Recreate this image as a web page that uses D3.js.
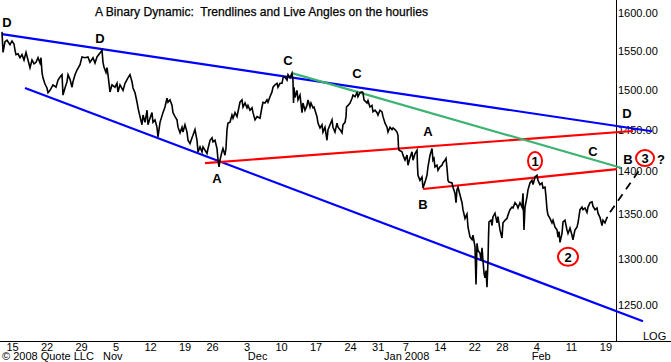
<!DOCTYPE html>
<html>
<head>
<meta charset="utf-8">
<script src="https://cdn.jsdelivr.net/npm/d3@7"></script>
<style>
  html, body { margin: 0; padding: 0; background: #fff; }
  svg { display: block; font-family: "Liberation Sans", Arial, sans-serif; }
</style>
</head>
<body>
<svg id="chart" width="671" height="362"></svg>
<script>
// ---------------- DATA ----------------
const title = "A Binary Dynamic:  Trendlines and Live Angles on the hourlies";

// x axis: trading-day index (0 = Mon Oct 15 2007)
const dayTickLabels = ["15","22","29","5","12","19","26","3","10","17","24","31","7","14","22","28","4","11","19"];
const dayTickIndex  = [0,5,10,15,20,25,29,34,39,44,49,53,57,62,67,71,76,81,86];
const monthLabels   = ["Nov","Dec","Jan 2008","Feb"];
const monthIndex    = [14.6,35.6,57.2,76.7];

// y axis (log)
const priceTicks = [1250,1300,1350,1400,1450,1500,1550,1600];

// hourly price series: time in trading days, price
const seriesT = [-1.45,-1.30,-1.01,-0.72,-0.29,0.00,0.29,0.43,0.58,0.87,1.16,1.45,1.74,2.03,2.32,2.61,2.90,3.19,3.48,3.77,4.06,4.20,4.35,4.49,4.78,5.07,5.22,5.51,5.94,6.38,6.67,6.96,7.25,7.39,7.68,7.97,8.12,8.41,8.70,8.84,9.13,9.42,9.86,10.14,10.58,11.01,11.30,11.74,12.03,12.32,12.75,13.04,13.19,13.33,13.62,13.77,13.91,14.20,14.49,14.93,15.22,15.36,15.65,16.09,16.38,16.81,17.10,17.39,17.54,17.83,18.12,18.26,18.55,18.84,18.99,19.28,19.57,19.71,20.00,20.29,20.43,20.72,21.01,21.16,21.45,21.88,22.17,22.46,22.61,22.90,23.19,23.33,23.62,23.91,24.06,24.35,24.64,24.78,25.07,25.36,25.51,25.80,26.09,26.23,26.52,26.81,26.96,27.25,27.54,27.68,27.97,28.26,28.41,28.70,28.99,29.13,29.42,29.71,29.86,30.00,30.14,30.43,30.58,30.87,31.01,31.16,31.30,31.59,31.88,32.03,32.32,32.61,32.75,33.04,33.33,33.48,33.77,34.06,34.20,34.49,34.78,34.93,35.22,35.51,35.94,36.23,36.38,36.67,36.96,37.10,37.39,37.68,37.83,38.12,38.41,38.55,38.84,39.13,39.28,39.57,39.86,40.00,40.29,40.58,40.72,40.80,40.87,41.01,41.30,41.45,41.74,42.03,42.17,42.46,42.75,42.90,43.19,43.33,43.62,43.77,44.20,44.35,44.64,44.93,45.07,45.36,45.65,45.80,46.09,46.38,46.52,46.81,47.10,47.25,47.54,47.83,47.97,48.26,48.41,48.48,48.70,48.99,49.28,49.42,49.71,50.00,50.14,50.43,50.72,50.87,51.01,51.45,51.59,51.88,52.17,52.32,52.61,52.90,53.04,53.33,53.62,53.77,54.06,54.35,54.49,54.78,55.07,55.22,55.51,55.80,55.94,56.01,56.09,56.52,56.67,56.96,57.25,57.39,57.68,57.97,58.12,58.41,58.70,58.77,58.84,59.13,59.42,59.57,59.86,60.14,60.29,60.58,60.87,61.01,61.16,61.30,61.59,61.74,62.03,62.32,62.46,62.75,62.90,63.04,63.19,63.33,63.77,63.91,64.20,64.35,64.49,64.64,64.93,65.22,65.36,65.65,65.94,66.09,66.38,66.67,66.81,67.10,67.25,67.39,67.54,67.83,67.97,68.12,68.26,68.41,68.55,68.70,68.84,68.99,69.06,69.13,69.42,69.57,69.71,70.00,70.29,70.43,70.72,71.01,71.16,71.45,71.74,71.88,72.17,72.46,72.61,72.90,73.19,73.33,73.62,73.91,74.06,74.20,74.35,74.64,74.78,75.07,75.36,75.51,75.80,76.09,76.23,76.52,76.81,76.96,77.25,77.39,77.54,77.68,77.97,78.26,78.41,78.70,78.99,79.13,79.28,79.42,79.71,79.86,80.14,80.43,80.58,80.87,81.16,81.30,81.59,81.88,82.03,82.32,82.61,82.75,83.04,83.33,83.48,83.77,84.06,84.20,84.49,84.78,84.93,85.22,85.51,85.65,85.94,86.23,86.38];
const seriesP = [1575,1548,1562,1564,1558,1563,1559,1551,1545,1546,1541,1545,1538,1548,1538,1528,1538,1533,1535,1541,1534,1541,1522,1515,1507,1502,1496,1499,1506,1503,1512,1516,1519,1493,1502,1510,1519,1513,1503,1510,1519,1525,1532,1542,1541,1542,1535,1541,1534,1542,1547,1551,1535,1529,1522,1528,1519,1497,1506,1503,1508,1497,1506,1499,1508,1515,1519,1510,1502,1496,1484,1477,1466,1456,1468,1459,1474,1456,1464,1471,1459,1462,1453,1441,1459,1471,1478,1489,1484,1487,1480,1471,1466,1462,1453,1446,1453,1447,1456,1447,1437,1433,1440,1443,1450,1437,1423,1429,1423,1429,1425,1421,1427,1437,1440,1435,1437,1427,1413,1405,1413,1423,1427,1419,1427,1450,1458,1459,1468,1464,1471,1466,1472,1484,1487,1478,1483,1477,1480,1474,1477,1471,1462,1466,1464,1478,1484,1483,1487,1484,1491,1497,1503,1506,1508,1503,1508,1508,1515,1516,1512,1519,1515,1521,1512,1483,1503,1490,1499,1487,1493,1471,1483,1474,1480,1487,1478,1483,1477,1478,1466,1458,1452,1456,1447,1453,1437,1450,1456,1462,1453,1447,1458,1453,1450,1446,1456,1459,1466,1478,1480,1483,1489,1493,1491,1496,1491,1496,1497,1496,1487,1483,1486,1478,1480,1472,1474,1471,1468,1474,1472,1466,1458,1453,1447,1453,1450,1452,1450,1447,1443,1429,1425,1423,1419,1413,1419,1407,1416,1423,1413,1421,1425,1405,1395,1389,1393,1380,1387,1395,1405,1419,1427,1413,1415,1405,1407,1401,1405,1407,1410,1413,1415,1404,1389,1387,1386,1381,1374,1363,1378,1381,1372,1363,1355,1345,1350,1335,1324,1321,1326,1313,1272,1317,1309,1306,1298,1312,1298,1284,1279,1287,1269,1298,1324,1341,1343,1337,1347,1351,1340,1347,1332,1323,1340,1343,1345,1349,1355,1358,1357,1363,1360,1357,1363,1358,1374,1332,1358,1370,1378,1386,1389,1384,1393,1395,1389,1384,1386,1380,1381,1370,1355,1349,1345,1340,1343,1335,1332,1324,1330,1318,1328,1341,1343,1332,1328,1334,1326,1321,1332,1335,1340,1355,1358,1355,1357,1352,1358,1363,1364,1359,1355,1357,1351,1346,1337,1343,1340,1346,1346];

// trendlines: [t0, p0, t1, p1]
const blueUpper  = [-1.45, 1572, 92.75, 1448];
const blueLower  = [1.88, 1502, 91.45, 1233];
const greenLine  = [40.58, 1521, 88.26, 1404];
const redUpper   = [27.97, 1409.5, 90.0, 1448.3];
const redLower   = [59.57, 1378.9, 87.68, 1402.4];
const projection = [86.67, 1352, 91.16, 1404];

// wave labels
const waveText = ["D","D","C","C","A","A","B","C","D","B","?"];
const waveT    = [-0.72,12.75,40.0,50.0,29.71,60.29,59.57,84.2,89.13,89.28,94.06];
const waveP    = [1588,1567,1538,1521,1391,1448,1361,1424,1470,1414,1414];

// circled counts
const countText = ["1","2","3"];
const countT    = [75.8,80.58,91.74];
const countP    = [1412,1302,1415.5];

// ---------------- CHART ----------------
const svg = d3.select("#chart");
const W = 671, H = 362;
const axisX = 616, axisY = 341;

const x = d3.scaleLinear().domain([0, 86]).range([12, 605.4]);
const y = d3.scaleLog().domain([1250, 1600]).range([305, 13.3]);

svg.append("rect").attr("width", W).attr("height", H).attr("fill", "#fff");

// frame lines
svg.append("line").attr("x1", axisX + 0.5).attr("x2", axisX + 0.5).attr("y1", 0).attr("y2", axisY)
  .attr("stroke", "#000").attr("stroke-width", 1);
svg.append("line").attr("x1", 0).attr("x2", W).attr("y1", axisY + 0.5).attr("y2", axisY + 0.5)
  .attr("stroke", "#000").attr("stroke-width", 1);

// title
svg.append("text").attr("x", 261.5).attr("y", 15.5).attr("text-anchor", "middle")
  .style("white-space", "pre")
  .attr("font-size", 13).attr("textLength", 333).attr("lengthAdjust", "spacingAndGlyphs")
  .attr("fill", "#000").attr("stroke", "#000").attr("stroke-width", 0.25).text(title);

// right axis
const yAxis = d3.axisRight(y).tickValues(priceTicks).tickFormat(d3.format(".2f")).tickSize(0).tickPadding(2);
const gy = svg.append("g").attr("transform", `translate(${axisX},0)`).call(yAxis);
gy.select(".domain").remove();
gy.selectAll("text").attr("font-size", 11).attr("font-family", "Liberation Sans, Arial, sans-serif").attr("fill", "#000");

svg.append("text").attr("x", 643).attr("y", 339.5).attr("font-size", 11).attr("fill", "#000").text("LOG");

// bottom axis
const xAxis = d3.axisBottom(x).tickValues(dayTickIndex)
  .tickFormat((d, i) => dayTickLabels[i]).tickSize(0).tickPadding(2.5);
const gx = svg.append("g").attr("transform", `translate(0,${axisY})`).call(xAxis);
gx.select(".domain").remove();
gx.selectAll("text").attr("font-size", 11).attr("font-family", "Liberation Sans, Arial, sans-serif").attr("fill", "#000");

svg.append("g").selectAll("text").data(monthLabels).join("text")
  .attr("x", (d, i) => x(monthIndex[i])).attr("y", 360).attr("text-anchor", "middle")
  .attr("font-size", 11).attr("fill", "#000").text(d => d);

svg.append("text").attr("x", 2).attr("y", 360).attr("font-size", 11).attr("fill", "#000").text("\u00A9 2008 Quote LLC");

// trendlines
const tl = [
  {v: blueUpper, c: "#0000ff"},
  {v: blueLower, c: "#0000ff"},
  {v: redUpper,  c: "#ff0000"},
  {v: redLower,  c: "#ff0000"},
  {v: greenLine, c: "#3cb371"}
];
svg.append("g").selectAll("line").data(tl).join("line")
  .attr("x1", d => x(d.v[0])).attr("y1", d => y(d.v[1]))
  .attr("x2", d => x(d.v[2])).attr("y2", d => y(d.v[3]))
  .attr("stroke", d => d.c).attr("stroke-width", 2.2);

// price series
const pts = seriesT.map((t, i) => [t, seriesP[i]]);
svg.append("path").datum(pts)
  .attr("d", d3.line().x(d => x(d[0])).y(d => y(d[1])))
  .attr("fill", "none").attr("stroke", "#000").attr("stroke-width", 1.6).attr("stroke-linejoin", "miter");

// projection dashed
svg.append("line")
  .attr("x1", x(projection[0])).attr("y1", y(projection[1]))
  .attr("x2", x(projection[2])).attr("y2", y(projection[3]))
  .attr("stroke", "#000").attr("stroke-width", 1.8).attr("stroke-dasharray", "8,6");

// wave labels
svg.append("g").selectAll("text").data(waveText).join("text")
  .attr("x", (d, i) => x(waveT[i])).attr("y", (d, i) => y(waveP[i]))
  .attr("dy", "0.36em").attr("text-anchor", "middle")
  .attr("font-size", 13).attr("font-weight", "bold").attr("fill", "#000").text(d => d);

// circled counts
const rx = [7, 10, 9], ry = [9, 9, 8];
const gc = svg.append("g");
gc.selectAll("ellipse").data(countText).join("ellipse")
  .attr("cx", (d, i) => x(countT[i])).attr("cy", (d, i) => y(countP[i]))
  .attr("rx", (d, i) => rx[i]).attr("ry", (d, i) => ry[i])
  .attr("fill", "#fff").attr("stroke", "#ff0000").attr("stroke-width", 2);
gc.selectAll("text").data(countText).join("text")
  .attr("x", (d, i) => x(countT[i])).attr("y", (d, i) => y(countP[i]))
  .attr("dy", "0.36em").attr("text-anchor", "middle")
  .attr("font-size", 13).attr("font-weight", "bold").attr("fill", "#000").text(d => d);
</script>
</body>
</html>
